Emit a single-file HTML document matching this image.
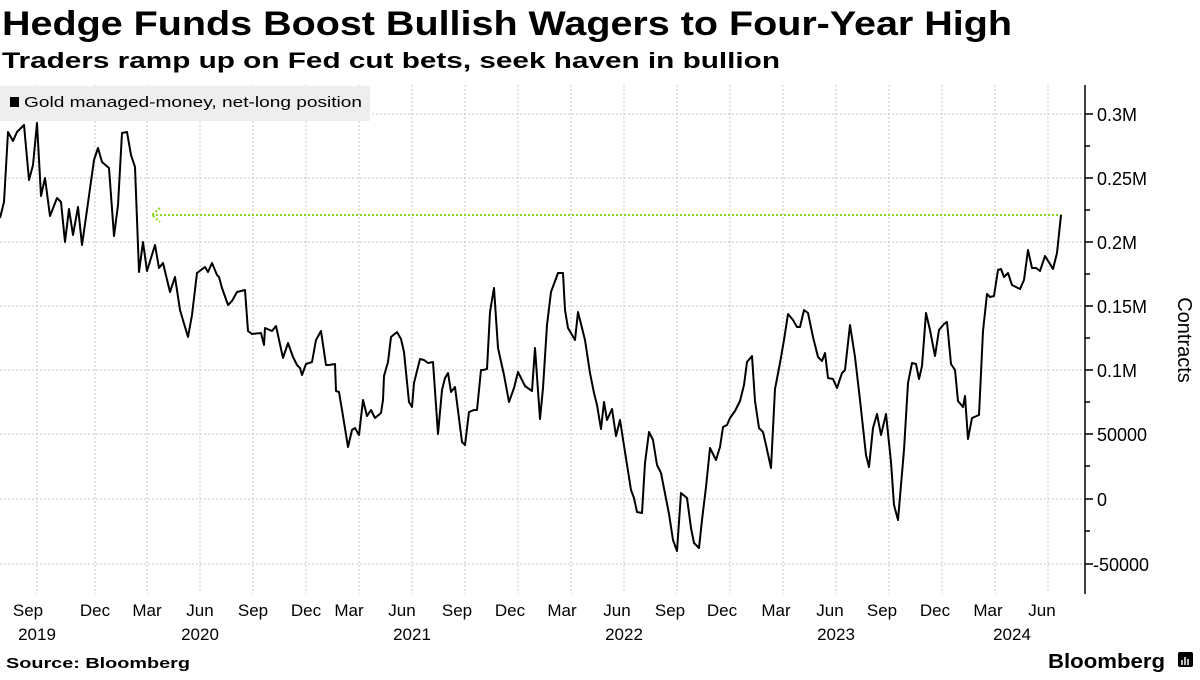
<!DOCTYPE html>
<html><head><meta charset="utf-8"><style>
body{margin:0;background:#fff;width:1200px;height:675px;overflow:hidden;font-family:"Liberation Sans",sans-serif}
</style></head><body>
<svg width="1200" height="675" xmlns="http://www.w3.org/2000/svg" font-family="Liberation Sans, sans-serif">
<text x="2" y="35" font-size="34" font-weight="bold" fill="#000" textLength="1010" lengthAdjust="spacingAndGlyphs">Hedge Funds Boost Bullish Wagers to Four-Year High</text>
<text x="2" y="68" font-size="22.5" font-weight="bold" fill="#000" textLength="778" lengthAdjust="spacingAndGlyphs">Traders ramp up on Fed cut bets, seek haven in bullion</text>
<g stroke="#c8c8c8" stroke-width="1" stroke-dasharray="2,2">
<line x1="0" x2="1085" y1="114" y2="114"/><line x1="0" x2="1085" y1="178" y2="178"/><line x1="0" x2="1085" y1="242" y2="242"/><line x1="0" x2="1085" y1="306" y2="306"/><line x1="0" x2="1085" y1="370" y2="370"/><line x1="0" x2="1085" y1="434" y2="434"/><line x1="0" x2="1085" y1="499" y2="499"/><line x1="0" x2="1085" y1="564" y2="564"/>
<line x1="37" x2="37" y1="85" y2="594"/><line x1="95" x2="95" y1="85" y2="594"/><line x1="147" x2="147" y1="85" y2="594"/><line x1="200" x2="200" y1="85" y2="594"/><line x1="253" x2="253" y1="85" y2="594"/><line x1="306" x2="306" y1="85" y2="594"/><line x1="359" x2="359" y1="85" y2="594"/><line x1="412" x2="412" y1="85" y2="594"/><line x1="465" x2="465" y1="85" y2="594"/><line x1="518" x2="518" y1="85" y2="594"/><line x1="571" x2="571" y1="85" y2="594"/><line x1="624" x2="624" y1="85" y2="594"/><line x1="677" x2="677" y1="85" y2="594"/><line x1="730" x2="730" y1="85" y2="594"/><line x1="783" x2="783" y1="85" y2="594"/><line x1="836" x2="836" y1="85" y2="594"/><line x1="889" x2="889" y1="85" y2="594"/><line x1="942" x2="942" y1="85" y2="594"/><line x1="995" x2="995" y1="85" y2="594"/><line x1="1048" x2="1048" y1="85" y2="594"/>
</g>
<rect x="0" y="86" width="370" height="35" fill="#eeeeee"/>
<rect x="10" y="97" width="9" height="10" fill="#000"/>
<text x="24" y="107" font-size="14.5" fill="#000" textLength="338" lengthAdjust="spacingAndGlyphs">Gold managed-money, net-long position</text>
<g stroke="#8fd61f" stroke-width="2" stroke-dasharray="2,2" fill="none">
<line x1="152" x2="1062" y1="215" y2="215"/>
<polyline points="160,208 152,215 160,222"/>
</g>
<polyline fill="none" stroke="#000" stroke-width="2" stroke-linejoin="round" points="0,218 4,202 8,132 13,141 17,132 24,125 29,180 33,165 37,123 41,196 45,178 50,216 57,198 61,202 65,242 69,209 73,235 78,207 82,245 87,210 94,160 98,148 102,162 109,168 114,236 118,205 122,133 127,132 131,155 135,167 139,272 143,242 147,271 155,245 159,268 163,263 170,292 175,277 180,310 188,337 192,315 197,273 205,267 208,272 212,263 217,275 219,277 222,288 228,305 232,301 237,292 245,290 248,331 252,334 261,333 264,345 265,328 272,331 276,326 283,358 288,343 293,357 297,365 300,368 302,375 306,364 312,362 316,340 321,331 326,365 329,365 335,364 336,391 339,392 343,416 348,447 352,430 355,428 359,435 363,400 367,416 371,410 375,418 381,413 383,400 384,376 388,362 391,337 397,332 401,339 404,352 409,402 412,407 414,383 420,359 424,360 428,363 433,362 438,434 442,390 445,378 448,373 451,392 455,387 462,442 465,445 469,412 474,410 477,410 481,370 483,370 487,369 490,312 494,288 498,348 504,375 509,402 514,388 518,372 522,380 525,386 532,391 535,348 540,419 543,388 547,325 551,292 558,273 563,273 565,310 568,328 575,340 578,312 585,340 590,373 594,393 597,405 601,429 604,402 607,420 612,409 616,436 620,420 625,452 631,490 634,498 637,512 642,513 645,463 649,432 653,440 657,465 661,473 669,514 673,540 677,551 681,493 687,498 691,528 694,543 699,548 702,520 706,487 710,448 716,460 720,447 723,427 727,425 730,418 735,411 740,401 744,385 747,362 752,356 755,401 759,428 763,432 766,445 771,468 775,389 780,363 784,340 788,314 793,320 797,327 800,327 804,310 808,313 813,337 818,357 822,361 825,353 828,378 833,379 837,388 842,373 845,370 850,325 855,357 860,400 866,455 869,467 873,428 877,414 881,435 886,414 891,462 894,505 898,520 904,450 908,383 912,363 916,364 919,379 922,366 926,313 930,330 935,356 939,330 944,324 947,322 951,364 955,370 958,401 963,407 965,396 968,439 972,418 979,415 983,331 987,294 990,297 994,296 998,270 1001,269 1004,277 1008,273 1012,285 1020,289 1024,280 1028,250 1032,268 1036,268 1040,271 1045,256 1050,264 1053,269 1057,253 1061,215"/>
<g stroke="#000" stroke-width="1.5">
<line x1="1085" x2="1085" y1="85" y2="594"/>
<line x1="1085" x2="1093" y1="114" y2="114"/><line x1="1085" x2="1093" y1="178" y2="178"/><line x1="1085" x2="1093" y1="242" y2="242"/><line x1="1085" x2="1093" y1="306" y2="306"/><line x1="1085" x2="1093" y1="370" y2="370"/><line x1="1085" x2="1093" y1="434" y2="434"/><line x1="1085" x2="1093" y1="499" y2="499"/><line x1="1085" x2="1093" y1="564" y2="564"/>
<line x1="1085" x2="1090" y1="146" y2="146"/><line x1="1085" x2="1090" y1="210" y2="210"/><line x1="1085" x2="1090" y1="274" y2="274"/><line x1="1085" x2="1090" y1="338" y2="338"/><line x1="1085" x2="1090" y1="402" y2="402"/><line x1="1085" x2="1090" y1="466" y2="466"/><line x1="1085" x2="1090" y1="531" y2="531"/>
</g>
<g font-size="18" fill="#000">
<text x="1097" y="121">0.3M</text><text x="1097" y="185">0.25M</text><text x="1097" y="249">0.2M</text><text x="1097" y="313">0.15M</text><text x="1097" y="377">0.1M</text><text x="1097" y="441">50000</text><text x="1097" y="506">0</text><text x="1093" y="571">-50000</text>
</g>
<text transform="translate(1178,340) rotate(90)" font-size="20" text-anchor="middle" fill="#000">Contracts</text>
<g font-size="17" fill="#000" text-anchor="middle">
<text x="28" y="616">Sep</text><text x="95" y="616">Dec</text><text x="147" y="616">Mar</text><text x="200" y="616">Jun</text><text x="253" y="616">Sep</text><text x="306" y="616">Dec</text><text x="349" y="616">Mar</text><text x="402" y="616">Jun</text><text x="457" y="616">Sep</text><text x="510" y="616">Dec</text><text x="562" y="616">Mar</text><text x="617" y="616">Jun</text><text x="670" y="616">Sep</text><text x="722" y="616">Dec</text><text x="776" y="616">Mar</text><text x="830" y="616">Jun</text><text x="882" y="616">Sep</text><text x="935" y="616">Dec</text><text x="988" y="616">Mar</text><text x="1042" y="616">Jun</text>
<text x="37" y="640">2019</text><text x="200" y="640">2020</text><text x="412" y="640">2021</text><text x="624" y="640">2022</text><text x="836" y="640">2023</text><text x="1012" y="640">2024</text>
</g>
<text x="6" y="668" font-size="15" font-weight="bold" fill="#000" textLength="184" lengthAdjust="spacingAndGlyphs">Source: Bloomberg</text>
<text x="1048" y="668" font-size="20" font-weight="bold" fill="#000" textLength="117" lengthAdjust="spacingAndGlyphs">Bloomberg</text>
<rect x="1178" y="652" width="15" height="15" rx="2" fill="#000"/>
<g stroke="#fff" stroke-width="1.5"><line x1="1182" x2="1182" y1="660" y2="665"/><line x1="1185" x2="1185" y1="657" y2="665"/><line x1="1188" x2="1188" y1="659" y2="665"/></g>
</svg>
</body></html>
